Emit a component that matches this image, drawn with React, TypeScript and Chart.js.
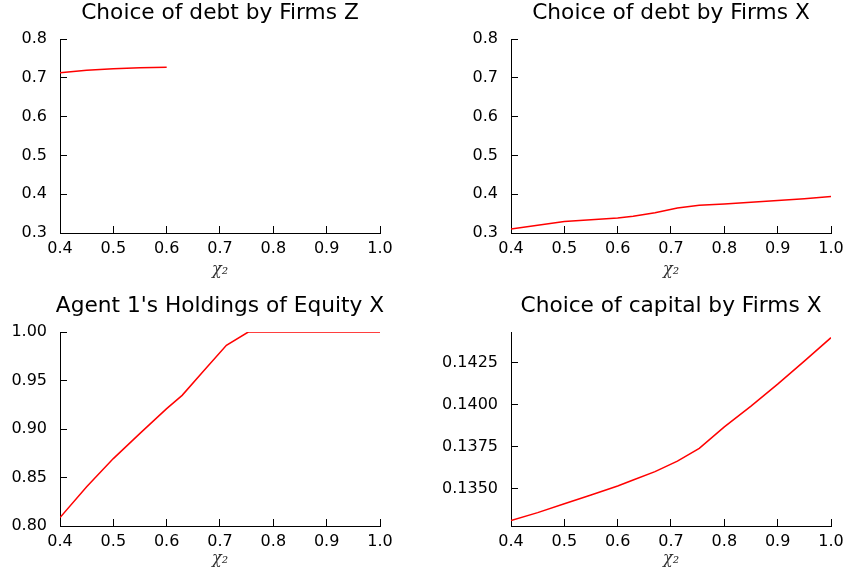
import React, { useEffect, useRef } from "react";
import { Chart, registerables } from "chart.js";

Chart.register(...registerables);

// ---- data ----
const chiGrid = [0.4, 0.45, 0.5, 0.55, 0.6, 0.629, 0.67, 0.712, 0.753, 0.8, 0.85, 0.9, 0.95, 1.0];
const chiGridZ = [0.4, 0.45, 0.5, 0.55, 0.6];
const debtZ = [0.713, 0.7195, 0.7235, 0.726, 0.7275];
const debtX = [0.310, 0.320, 0.3295, 0.334, 0.3388, 0.3432, 0.352, 0.3645, 0.3716, 0.375, 0.3793, 0.3837, 0.3885, 0.394];
const equityX = [0.8087, 0.8405, 0.8695, 0.8955, 0.921, 0.9347, 0.9602, 0.9863, 1.0, 1.0, 1.0, 1.0, 1.0, 1.0];
const capitalX = [0.13307, 0.13355, 0.13408, 0.1346, 0.13514, 0.1355, 0.136, 0.13663, 0.13739, 0.13868, 0.13992, 0.14123, 0.14261, 0.14401];

const xTicks = [0.4, 0.5, 0.6, 0.7, 0.8, 0.9, 1.0];
const debtTicks = [0.3, 0.4, 0.5, 0.6, 0.7, 0.8];
const equityTicks = [0.8, 0.85, 0.9, 0.95, 1.0];
const capitalTicks = [0.135, 0.1375, 0.14, 0.1425];

const titles = [
  "Choice of debt by Firms Z",
  "Choice of debt by Firms X",
  "Agent 1's Holdings of Equity X",
  "Choice of capital by Firms X",
];

const TICK_FONT = { family: "'DejaVu Sans', sans-serif", size: 16 };

const panelTitle = {
  id: "panelTitle",
  afterDraw(chart: any, _args: any, opts: any) {
    const { ctx, chartArea } = chart;
    ctx.save();
    ctx.font = "21.7px 'DejaVu Sans', sans-serif";
    ctx.fillStyle = "#000";
    ctx.textAlign = "center";
    ctx.textBaseline = "alphabetic";
    ctx.fillText(opts.text, (chartArea.left + chartArea.right) / 2, chartArea.top - 20.5);
    ctx.restore();
  },
};

type PanelProps = {
  title: string;
  xs: number[];
  ys: number[];
  yMin: number;
  yMax: number;
  yTicks: number[];
  yDigits: number;
  left: number;
  top: number;
  width: number;
  height: number;
  plotLeft: number;
  plotRight: number;
  plotTop: number;
  plotBottom: number;
};

function Panel(p: PanelProps) {
  const ref = useRef<HTMLCanvasElement | null>(null);
  useEffect(() => {
    if (!ref.current) return;
    const chart = new Chart(ref.current, {
      type: "line",
      data: {
        datasets: [
          {
            data: p.xs.map((x, i) => ({ x, y: p.ys[i] })),
            borderColor: "#ff0000",
            borderWidth: 1.5,
            pointRadius: 0,
            tension: 0,
            fill: false,
          },
        ],
      },
      options: {
        responsive: false,
        maintainAspectRatio: false,
        animation: false,
        layout: {
          padding: { left: 0, right: p.width - p.plotRight, top: p.plotTop, bottom: 0 },
        },
        plugins: {
          legend: { display: false },
          tooltip: { enabled: false },
          title: { display: false },
          panelTitle: { text: p.title },
        } as any,
        scales: {
          x: {
            type: "linear",
            min: 0.4,
            max: 1.0,
            afterBuildTicks: (s: any) => {
              s.ticks = xTicks.map((v) => ({ value: v }));
            },
            afterFit: (s: any) => {
              s.height = p.height - p.plotBottom;
              s.paddingLeft = 0;
              s.paddingRight = 0;
            },
            ticks: {
              callback: (v: any) => Number(v).toFixed(1),
              font: TICK_FONT,
              color: "#000",
              padding: 13.4,
              maxRotation: 0,
              autoSkip: false,
            },
            grid: { drawOnChartArea: false, tickLength: -7, color: "#000", tickWidth: 1 },
            border: { display: true, color: "#000", width: 1 },
            title: {
              display: true,
              text: "χ₂",
              font: { family: "'DejaVu Serif', serif", style: "italic", size: 16 },
              color: "#333",
              padding: { top: 0, bottom: 10.4 },
            },
          },
          y: {
            type: "linear",
            min: p.yMin,
            max: p.yMax,
            afterBuildTicks: (s: any) => {
              s.ticks = p.yTicks.map((v) => ({ value: v }));
            },
            afterFit: (s: any) => {
              s.width = p.plotLeft;
              s.paddingTop = 0;
              s.paddingBottom = 0;
            },
            ticks: {
              callback: (v: any) => Number(v).toFixed(p.yDigits),
              font: TICK_FONT,
              color: "#000",
              padding: 20,
              autoSkip: false,
            },
            grid: { drawOnChartArea: false, tickLength: -7, color: "#000", tickWidth: 1 },
            border: { display: true, color: "#000", width: 1 },
          },
        },
      },
      plugins: [panelTitle as any],
    });
    return () => chart.destroy();
  }, []);
  return (
    <div style={{ position: "absolute", left: p.left, top: p.top, width: p.width, height: p.height }}>
      <canvas ref={ref} width={p.width} height={p.height} style={{ display: "block" }} />
    </div>
  );
}

export default function App() {
  return (
    <div style={{ position: "absolute", left: 0, top: 0, width: 847, height: 579, background: "#fff", overflow: "hidden" }}>
      <Panel title={titles[0]} xs={chiGridZ} ys={debtZ} yMin={0.3} yMax={0.8} yTicks={debtTicks} yDigits={1}
        left={0} top={0} width={420} height={290} plotLeft={60} plotRight={380} plotTop={39} plotBottom={233} />
      <Panel title={titles[1]} xs={chiGrid} ys={debtX} yMin={0.3} yMax={0.8} yTicks={debtTicks} yDigits={1}
        left={420} top={0} width={427} height={290} plotLeft={91} plotRight={411} plotTop={39} plotBottom={233} />
      <Panel title={titles[2]} xs={chiGrid} ys={equityX} yMin={0.8} yMax={1.0} yTicks={equityTicks} yDigits={2}
        left={0} top={290} width={420} height={289} plotLeft={60} plotRight={380} plotTop={42} plotBottom={236} />
      <Panel title={titles[3]} xs={chiGrid} ys={capitalX} yMin={0.13275} yMax={0.14435} yTicks={capitalTicks} yDigits={4}
        left={420} top={290} width={427} height={289} plotLeft={91} plotRight={411} plotTop={42} plotBottom={236} />
    </div>
  );
}
